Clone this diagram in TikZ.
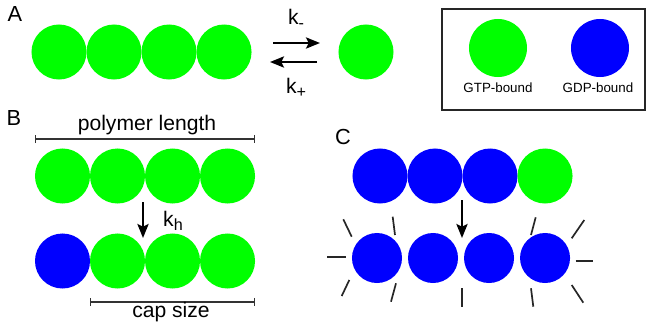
\documentclass[tikz,border=0pt]{standalone}
\usepackage{fontspec}
\setmainfont{Liberation Sans}
\usepackage{xcolor}
\usetikzlibrary{arrows.meta,positioning,calc}
\definecolor{gtpgreen}{RGB}{0,255,0}
\definecolor{gdpblue}{RGB}{0,0,255}
\newcommand{\rate}[1]{k\raisebox{-3pt}{\fontsize{11.5}{12}\selectfont #1}}

\begin{document}
\begin{tikzpicture}[
  x=0.025cm,y=-0.025cm,
  font=\fontsize{15}{18}\selectfont,
  gtp/.style={circle,fill=gtpgreen,inner sep=0pt,outer sep=0pt,minimum size=1.375cm},
  gdp/.style={gtp,fill=gdpblue},
  arr/.style={-{Stealth[length=10pt,width=8pt,inset=2pt]},line width=1.4pt},
  bar/.style={{Bar[width=6pt]}-{Bar[width=6pt]},line width=1pt,black!80},
  tick/.style={line width=1.2pt,black!85},
  panel/.style={font=\fontsize{15.5}{18}\selectfont},
  legtext/.style={font=\fontsize{9.5}{11}\selectfont}]
\useasboundingbox (0,0) rectangle (647,331);
% A: growth and shrinkage
\node[panel] (la) at (15,14) {A};
\node[gtp] (a1) at (59,52) {};
\node[gtp,right=0pt of a1] (a2) {};
\node[gtp,right=0pt of a2] (a3) {};
\node[gtp,right=0pt of a3] (a4) {};
\node[gtp] (a5) at (366,52) {};
\coordinate (off0) at (273,43);
\coordinate (off1) at (320,43);
\coordinate (on0) at (317,62);
\coordinate (on1) at (270,62);
\draw[arr] (off0)--(off1);
\draw[arr] (on0)--(on1);
\node (kminus) at (296,19) {\rate{-}};
\node (kplus) at (296,88) {\rate{+}};
% legend
\draw[line width=1.4pt,black!85] (442,9) rectangle (645,110);
\node[gtp,minimum size=1.45cm] (lg) at (498,48) {};
\node[gdp,minimum size=1.45cm] (ld) at (600,48) {};
\node[legtext] (lgt) at (498,88) {GTP-bound};
\node[legtext] (ldt) at (598,88) {GDP-bound};
% B: hydrolysis
\node[panel] (lb) at (14,118) {B};
\node[gtp] (b1) at (62.5,176) {};
\node[gtp,right=0pt of b1] (b2) {};
\node[gtp,right=0pt of b2] (b3) {};
\node[gtp,right=0pt of b3] (b4) {};
\node[gdp] (b5) at (62.5,261) {};
\node[gtp,right=0pt of b5] (b6) {};
\node[gtp,right=0pt of b6] (b7) {};
\node[gtp,right=0pt of b7] (b8) {};
\draw[bar] (b1.west |- 0,139)--(b4.east |- 0,139);
\node (plen) at (147,125.5) {polymer length};
\coordinate (hyd0) at (143,202);
\coordinate (hyd1) at (143,238);
\draw[arr] (hyd0)--(hyd1);
\node (kh) at (173,221) {\rate{h}};
\draw[bar] (b6.west |- 0,302)--(b8.east |- 0,302);
\node (cap) at (171,312) {cap size};
% C: catastrophe
\node[panel] (lc) at (343,137) {C};
\node[gdp] (c1) at (380,176) {};
\node[gdp,right=0pt of c1] (c2) {};
\node[gdp,right=0pt of c2] (c3) {};
\node[gtp,right=0pt of c3] (c4) {};
\node[gdp,minimum size=1.25cm] (d1) at (377,258) {};
\node[gdp,minimum size=1.25cm,right=0.15cm of d1] (d2) {};
\node[gdp,minimum size=1.25cm,right=0.15cm of d2] (d3) {};
\node[gdp,minimum size=1.25cm,right=0.15cm of d3] (d4) {};
\coordinate (cat0) at (462,200);
\coordinate (cat1) at (462,238);
\draw[arr] (cat0)--(cat1);
\foreach \xa/\ya/\xb/\yb in {343.3/219.3/351.7/236.7, 392.7/216.7/395/235,
    327.3/256.7/345.7/256.7, 349.3/280/341.7/296, 396/283.3/391/301.7,
    461.7/288.3/461.7/307.3, 535.7/217.3/531/235, 584.3/220/571.7/238.3,
    575.7/260.7/593.3/260.7, 531/288.3/533.3/306.7, 571.7/285/583.3/302.7}
  \draw[tick] (\xa,\ya)--(\xb,\yb);
\end{tikzpicture}
\end{document}
